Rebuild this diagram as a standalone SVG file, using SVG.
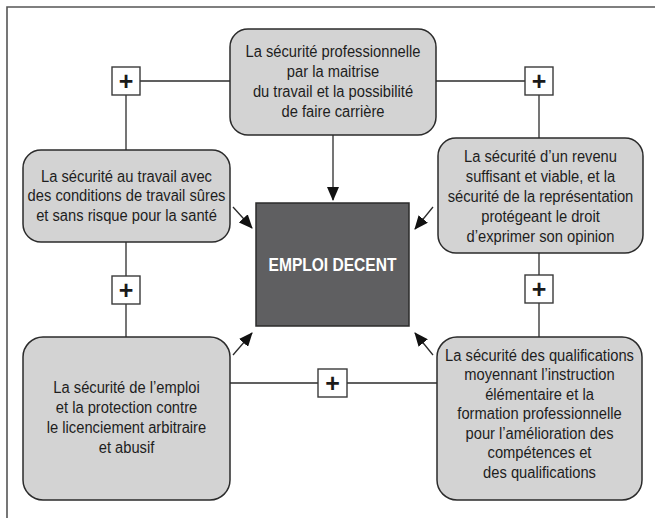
<svg xmlns="http://www.w3.org/2000/svg" width="655" height="518" viewBox="0 0 655 518">
<style>
.frame{stroke:#555;stroke-width:1.6;fill:none}
.box{fill:#d3d3d3;stroke:#2b2b2b;stroke-width:1.5}
.core{fill:#5f5f61;stroke:#2b2b2b;stroke-width:1.5}
.pbox{fill:#fff;stroke:#3a3a3a;stroke-width:1.4}
.ln{stroke:#2b2b2b;stroke-width:1.3;fill:none}
.t{font-family:"Liberation Sans",Arial,sans-serif;font-size:16px;fill:#1e1e1e;text-anchor:middle}
.c{font-family:"Liberation Sans",Arial,sans-serif;font-size:18px;font-weight:bold;fill:#fff;text-anchor:middle}
.p{font-family:"Liberation Sans",Arial,sans-serif;font-size:25px;font-weight:bold;fill:#1a1a1a;text-anchor:middle}
</style>
<defs>
<marker id="ah" markerUnits="userSpaceOnUse" markerWidth="14" markerHeight="12" refX="13" refY="6" orient="auto">
<path d="M0,0 L14,6 L0,12 Z" fill="#111"/>
</marker>
</defs>
<path class="frame" d="M7,518 V7 H655"/>
<g id="connectors">
<path class="ln" d="M140,81 H230"/>
<path class="ln" d="M126,95 V150"/>
<path class="ln" d="M436,81 H525"/>
<path class="ln" d="M539,95 V138"/>
<path class="ln" d="M126,242 V276"/>
<path class="ln" d="M126,304 V337"/>
<path class="ln" d="M539,253 V275"/>
<path class="ln" d="M539,303 V337"/>
<path class="ln" d="M230,383 H318"/>
<path class="ln" d="M347,383 H437"/>
<path class="ln" d="M333,135 V200" marker-end="url(#ah)"/>
<path class="ln" d="M233,207 L252,228" marker-end="url(#ah)"/>
<path class="ln" d="M433,207 L415,229" marker-end="url(#ah)"/>
<path class="ln" d="M233,355 L252,333" marker-end="url(#ah)"/>
<path class="ln" d="M433,355 L415,333" marker-end="url(#ah)"/>
</g>
<g id="plus-tl"><rect class="pbox" x="112" y="67" width="28" height="28"/><text class="p" x="126" y="90">+</text></g>
<g id="plus-tr"><rect class="pbox" x="525" y="67" width="28" height="28"/><text class="p" x="539" y="90">+</text></g>
<g id="plus-l"><rect class="pbox" x="112" y="276" width="28" height="28"/><text class="p" x="126" y="299">+</text></g>
<g id="plus-r"><rect class="pbox" x="525" y="275" width="28" height="28"/><text class="p" x="539" y="298">+</text></g>
<g id="plus-b"><rect class="pbox" x="318" y="369" width="29" height="28"/><text class="p" x="332.5" y="392">+</text></g>
<g id="node-top">
<rect class="box" x="230" y="29" width="206" height="106" rx="18"/>
<g transform="translate(333 0) scale(0.92 1)">
<text class="t" x="0" y="57.5">La sécurité professionnelle</text>
<text class="t" x="0" y="77.5">par la maitrise</text>
<text class="t" x="0" y="97.5">du travail et la possibilité</text>
<text class="t" x="0" y="117.5">de faire carrière</text>
</g>
</g>
<g id="node-left">
<rect class="box" x="23" y="150" width="207" height="92" rx="18"/>
<g transform="translate(126.5 0) scale(0.92 1)">
<text class="t" x="0" y="182">La sécurité au travail avec</text>
<text class="t" x="0" y="201.5">des conditions de travail sûres</text>
<text class="t" x="0" y="221">et sans risque pour la santé</text>
</g>
</g>
<g id="node-right">
<rect class="box" x="438" y="138" width="205" height="115" rx="18"/>
<g transform="translate(540.5 0) scale(0.92 1)">
<text class="t" x="0" y="162.5">La sécurité d’un revenu</text>
<text class="t" x="0" y="182.5">suffisant et viable, et la</text>
<text class="t" x="0" y="202.5">sécurité de la représentation</text>
<text class="t" x="0" y="222.5">protégeant le droit</text>
<text class="t" x="0" y="242.5">d’exprimer son opinion</text>
</g>
</g>
<g id="node-center">
<rect class="core" x="256" y="203" width="153" height="123"/>
<g transform="translate(332.5 0) scale(0.865 1)">
<text class="c" x="0" y="271.5">EMPLOI DECENT</text>
</g>
</g>
<g id="node-bottom-left">
<rect class="box" x="23" y="337" width="207" height="163" rx="20"/>
<g transform="translate(126.5 0) scale(0.92 1)">
<text class="t" x="0" y="393.5">La sécurité de l’emploi</text>
<text class="t" x="0" y="413.5">et la protection contre</text>
<text class="t" x="0" y="433.5">le licenciement arbitraire</text>
<text class="t" x="0" y="453.5">et abusif</text>
</g>
</g>
<g id="node-bottom-right">
<rect class="box" x="437" y="337" width="205" height="163" rx="20"/>
<g transform="translate(539.5 0) scale(0.92 1)">
<text class="t" x="0" y="361">La sécurité des qualifications</text>
<text class="t" x="0" y="380.5">moyennant l’instruction</text>
<text class="t" x="0" y="400">élémentaire et la</text>
<text class="t" x="0" y="419.5">formation professionnelle</text>
<text class="t" x="0" y="439">pour l’amélioration des</text>
<text class="t" x="0" y="458.5">compétences et</text>
<text class="t" x="0" y="478">des qualifications</text>
</g>
</g>
</svg>
